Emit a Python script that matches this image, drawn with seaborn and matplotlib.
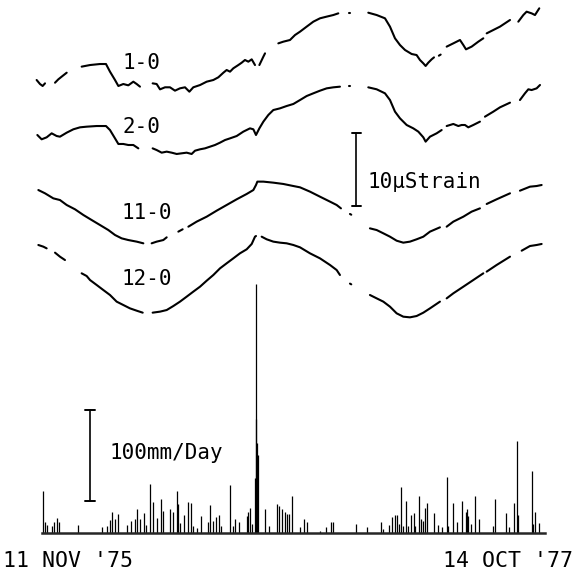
import numpy as np
import pandas as pd
import matplotlib
matplotlib.use("Agg")
import matplotlib.pyplot as plt
import seaborn as sns

sns.set_style("white")
plt.rcParams['font.family'] = ['DejaVu Sans Mono', 'DejaVu Sans']

# ---------------- DATA ----------------
# strain traces: list of segments (gaps between segments); (day since 11 Nov 1975, microstrain)
STRAIN_1_0 = [
    [(-7.5, 1.37), (-2.8, 0.82), (0.9, 0.55), (4.2, 0.91)],
    [(18.2, 1.0), (22.8, 1.46), (27.5, 1.83), (34.5, 2.37)],
    [(55.4, 3.2), (67.1, 3.42), (81.0, 3.56), (89.4, 3.56), (95.0, 2.51), (102.0, 1.37), (106.7, 0.55),
     (113.6, 0.82), (120.6, 0.64), (127.6, 1.14), (132.3, 0.82), (136.9, 0.46)],
    [(154.6, 0.91), (160.2, 0.82), (164.9, 0.09), (171.9, 0.37), (178.8, 0.37), (185.8, -0.09), (192.8, 0.23),
     (199.8, 0.37), (205.9, -0.23), (211.4, 0.37), (220.8, 0.68), (230.1, 1.14), (239.4, 1.37), (246.4, 1.74),
     (253.4, 2.37), (258.0, 2.74), (262.7, 2.51), (267.3, 2.97), (274.3, 3.42), (279.0, 3.74), (283.6, 4.11),
     (288.3, 3.88), (293.0, 4.2), (297.6, 3.42)],
    [(303.7, 3.42), (309.3, 4.57), (311.6, 5.02)],
    [(330.2, 6.39), (337.2, 6.62), (346.5, 6.85), (353.5, 7.53), (360.5, 7.99), (369.8, 8.68), (379.1, 9.36),
     (388.4, 9.82), (397.7, 10.05), (407.0, 10.27), (414.0, 10.5)],
    [(428.5, 10.59), (430.5, 10.59)],
    [(455.9, 10.59), (467.6, 10.27), (479.2, 9.82), (486.2, 8.68), (493.2, 7.08), (500.2, 6.16), (507.2, 5.48),
     (516.5, 4.93), (523.4, 4.79), (528.1, 4.11), (532.8, 3.65), (536.0, 3.29), (539.7, 3.74), (544.4, 4.2),
     (547.7, 4.47)],
    [(554.5, 4.7), (557.0, 4.85)],
    [(565.4, 5.94), (574.7, 6.39), (584.0, 6.85), (588.7, 6.16), (592.4, 5.57), (600.3, 5.94), (609.6, 6.62),
     (616.6, 7.08)],
    [(621.3, 7.76), (630.6, 8.22), (639.9, 8.68), (653.9, 9.59)],
    [(665.5, 9.36), (672.5, 10.27), (677.1, 10.73), (684.1, 10.5), (688.8, 10.27), (694.8, 11.19)],
]

STRAIN_2_0 = [
    [(-6.5, 2.74), (-0.5, 2.15), (6.5, 2.42), (13.5, 2.97), (20.5, 2.6), (25.1, 2.51), (34.5, 3.06), (43.8, 3.52),
     (53.1, 3.79), (62.4, 3.88), (76.4, 3.97), (89.4, 3.97), (95.0, 3.42), (102.0, 2.28), (106.7, 1.51),
     (113.6, 1.51), (120.6, 1.37), (127.6, 1.37), (134.6, 0.91)],
    [(154.6, 0.91), (160.2, 0.68), (167.2, 0.32), (174.2, 0.46), (181.2, 0.32), (188.2, 0.14), (195.1, 0.23),
     (202.1, 0.32), (209.1, 0.14), (213.8, 0.59), (220.8, 0.78), (227.7, 0.91), (234.7, 1.14), (241.7, 1.37),
     (248.7, 1.69), (255.7, 2.05), (262.7, 2.28), (272.0, 2.6), (281.3, 3.2), (290.6, 3.65), (295.3, 3.52),
     (299.0, 2.74), (303.7, 3.65), (309.3, 4.57), (316.2, 5.48), (323.2, 6.16), (332.5, 6.39), (341.8, 6.71),
     (351.2, 6.99), (360.5, 7.53), (369.8, 8.08), (379.1, 8.45), (388.4, 8.81), (397.7, 9.13), (407.0, 9.27),
     (416.3, 9.36)],
    [(428.5, 9.45), (430.5, 9.45)],
    [(455.9, 9.27), (467.6, 9.0), (479.2, 8.45), (486.2, 7.53), (493.2, 5.94), (500.2, 5.02), (509.5, 4.11),
     (518.8, 3.65), (525.8, 3.2), (532.8, 2.42), (536.0, 1.83), (542.1, 2.51), (551.4, 2.97), (558.4, 3.42)],
    [(565.4, 3.97), (574.7, 4.25), (581.7, 3.97), (586.3, 4.11), (591.0, 4.11), (595.6, 3.79), (602.6, 4.11),
     (611.9, 4.57)],
    [(618.9, 5.25), (630.6, 5.94), (639.9, 6.53), (653.9, 7.17)],
    [(667.8, 7.53), (674.8, 8.45), (679.5, 9.0), (684.1, 8.9), (691.1, 9.13), (695.8, 9.59)],
]

STRAIN_11_0 = [
    [(-5.1, 7.53), (4.2, 7.08), (15.8, 6.39), (25.1, 6.16), (34.5, 5.48), (46.1, 4.89), (57.8, 4.11), (69.4, 3.42),
     (81.0, 2.74), (92.7, 2.05), (102.0, 1.37), (111.3, 0.91), (120.6, 0.68), (132.3, 0.46), (141.6, 0.23)],
    [(153.2, 0.23), (160.2, 0.46), (169.5, 0.68), (174.2, 1.05)],
    [(190.5, 1.83), (196.5, 2.15)],
    [(204.5, 2.51), (216.1, 3.2), (230.1, 3.88), (244.0, 4.7), (258.0, 5.48), (272.0, 6.26), (286.0, 6.99),
     (295.3, 7.53), (299.0, 8.22), (300.9, 8.68), (309.3, 8.68), (323.2, 8.54), (337.2, 8.36), (351.2, 8.08),
     (360.5, 7.9), (374.4, 7.31), (388.4, 6.62), (402.4, 5.94), (411.7, 5.48), (417.7, 5.02)],
    [(430.3, 4.25), (432.1, 4.15)],
    [(458.2, 2.28), (467.6, 2.05), (476.9, 1.6), (486.2, 1.14), (495.5, 0.59), (504.8, 0.32), (514.1, 0.46),
     (523.4, 0.78), (532.8, 1.14), (542.1, 1.83), (556.0, 2.42)],
    [(565.4, 2.51), (574.7, 3.2), (588.7, 3.88), (600.3, 4.57), (611.9, 5.02)],
    [(621.3, 5.62), (635.2, 6.26), (653.9, 7.08)],
    [(667.8, 7.44), (681.8, 7.99), (691.1, 8.08), (698.1, 8.22)],
]

STRAIN_12_0 = [
    [(-5.1, 9.59), (1.9, 9.36), (6.5, 9.13)],
    [(18.2, 8.54), (25.1, 7.99), (32.1, 7.53)],
    [(55.4, 5.71), (62.4, 5.34), (67.1, 4.79), (76.4, 4.11), (85.7, 3.42), (95.0, 2.74), (104.3, 1.83),
     (113.6, 1.37), (122.9, 0.91), (132.3, 0.59), (140.7, 0.32)],
    [(154.6, 0.32), (164.9, 0.46), (174.2, 0.68), (183.5, 1.23), (192.8, 1.83), (202.1, 2.51), (211.4, 3.2),
     (220.8, 3.88), (230.1, 4.7), (239.4, 5.48), (248.7, 6.39), (258.0, 7.08), (267.3, 7.76), (276.6, 8.45),
     (286.0, 9.0), (293.0, 9.73), (297.6, 10.73), (299.0, 10.82)],
    [(306.9, 10.73), (313.9, 10.37), (323.2, 10.05), (332.5, 9.91), (341.8, 9.82), (351.2, 9.59), (360.5, 9.27),
     (374.4, 8.45), (388.4, 7.76), (402.4, 6.85), (411.7, 6.16), (416.3, 5.48)],
    [(430.3, 4.3), (432.1, 4.2)],
    [(458.2, 2.74), (467.6, 2.28), (476.9, 1.83), (486.2, 1.14), (495.5, 0.23), (504.8, -0.23), (514.1, -0.32),
     (523.4, -0.14), (532.8, 0.32), (542.1, 0.91), (556.0, 1.83)],
    [(565.4, 2.28), (574.7, 2.97), (588.7, 3.88), (602.6, 4.79), (616.6, 5.71)],
    [(621.3, 5.94), (635.2, 6.85), (653.9, 7.99)],
    [(670.2, 8.81), (681.8, 9.45), (691.1, 9.59), (698.1, 9.73)],
]

STRAIN_LABELS = ["1-0", "2-0", "11-0", "12-0"]

# daily rainfall (day since 11 Nov 1975, mm/day)
RAIN_DAY = [1, 4, 6.5, 13.5, 17, 21.5, 23.5, 50, 83.5, 91.5, 95, 98.5, 102, 105.5, 119, 124, 130, 133, 137, 143,
            146, 151, 154.5, 160, 166.5, 169.5, 179, 182.5, 188, 190, 193, 198.5, 204, 207.5, 211.5, 216, 222.5,
            232.5, 235, 239.5, 243, 247, 250.5, 262.5, 267.5, 270, 275.5, 286, 288, 290, 294,
            297.5, 298.5, 299.5, 300.5, 301.5,
            311.5, 317.5, 328, 330.5, 335, 339.5, 343, 345.5, 350, 360.5, 366, 370, 388.5, 397.5, 403.5, 406,
            438.5, 454.5, 473.5, 477, 485.5, 489, 493.5, 495.5, 499, 501, 505, 508.5, 512, 515, 519.5, 521, 527,
            530, 532, 535.5, 538, 547.5, 553.5, 558.5, 565.5, 567.5, 574, 580.5, 587.5, 592.5, 594, 595.5, 599,
            604.5, 611, 630.5, 633, 649, 652, 659.5, 663, 665, 684, 685.5, 689.5, 694.5]
RAIN_MM = [46, 11, 8, 7, 11, 16, 11, 8, 5.5, 7, 14, 23, 14.5, 20, 8.5, 13, 14.5, 26, 15, 21,
           8.5, 53, 33, 16, 36.5, 24, 25.5, 22, 46, 31, 10, 19, 33, 32, 7, 5, 18,
           11, 30, 13, 16.5, 19, 7, 52, 7, 14.5, 11, 18, 22, 27, 9,
           60, 272, 124, 98, 85,
           26, 7, 31, 29, 26, 22, 20, 20, 40, 6.5, 15, 11.5, 2, 6.5, 12, 12,
           9, 6, 11, 3.5, 8.5, 16.5, 19, 19, 9, 50, 7, 34.5, 7, 19, 21, 7, 39.5,
           14.5, 13, 27, 32, 21, 8, 6.5, 61, 7, 32, 11.5, 34, 22.5, 25.5, 18, 9,
           40.5, 14.5, 7, 36.5, 21, 6.5, 32, 100, 19, 67.5, 9, 22.5, 10]

DATE_LABELS = ["11 NOV '75", "14 OCT '77"]
STRAIN_SCALE = 10      # microstrain
RAIN_SCALE = 100       # mm/day

# ---------------- LAYOUT ----------------
W, H = 575, 576
DAY0_PX = 42.0                 # pixel of day 0
PX_PER_DAY = 501.0 / 700.0
PX_PER_US = 7.3                # pixels per microstrain
PX_PER_MM = 0.913              # pixels per mm/day
RAIN_BASE_PX = 532.5
CURVE_REF_PX = [90, 155, 245, 315]   # vertical placement of each trace

xlim = (-DAY0_PX / PX_PER_DAY, (W - DAY0_PX) / PX_PER_DAY)

fig = plt.figure(figsize=(W / 100, H / 100), dpi=100)
fig.patch.set_facecolor("white")

ax_s = fig.add_axes([0, 0, 1, 1])
ax_s.set_xlim(*xlim)
ax_s.set_ylim(-H / PX_PER_US, 0)
ax_s.axis("off")

ax_r = fig.add_axes([0, 0, 1, 1])
ax_r.patch.set_alpha(0)
ax_r.set_xlim(*xlim)
ax_r.set_ylim((RAIN_BASE_PX - H) / PX_PER_MM, RAIN_BASE_PX / PX_PER_MM)

# strain traces
rows = []
uid = 0
for name, segs, ref in zip(STRAIN_LABELS, [STRAIN_1_0, STRAIN_2_0, STRAIN_11_0, STRAIN_12_0], CURVE_REF_PX):
    off = -ref / PX_PER_US
    for seg in segs:
        for d, v in seg:
            rows.append({"day": d, "y": v + off, "curve": name, "uid": uid})
        uid += 1
df = pd.DataFrame(rows)
sns.lineplot(data=df, x="day", y="y", units="uid", estimator=None, sort=False,
             color="black", lw=1.5, ax=ax_s, legend=False)

lab_pos = [(141, 63), (141, 127), (147, 213), (147, 279)]
for lab, (xp, yp) in zip(STRAIN_LABELS, lab_pos):
    ax_s.text((xp - DAY0_PX) / PX_PER_DAY, -yp / PX_PER_US, lab, ha="center", va="center",
              fontsize=15, color="black")

# strain scale bar
sx = (356.5 - DAY0_PX) / PX_PER_DAY
top_s = -132.7 / PX_PER_US
ax_s.plot([sx, sx], [top_s, top_s - STRAIN_SCALE], color="black", lw=1.2)
for yy in (top_s, top_s - STRAIN_SCALE):
    ax_s.plot([sx - 6, sx + 6], [yy, yy], color="black", lw=1.4)
ax_s.text((368 - DAY0_PX) / PX_PER_DAY, -181.5 / PX_PER_US, "10\u03bcStrain", ha="left", va="center",
          fontsize=15, color="black")

# rainfall
ax_r.vlines(RAIN_DAY, 0, RAIN_MM, color="black", lw=0.9)
for s in ["top", "right", "left"]:
    ax_r.spines[s].set_visible(False)
ax_r.spines["bottom"].set_position(("data", 0))
ax_r.spines["bottom"].set_bounds(0, 703)
ax_r.spines["bottom"].set_linewidth(1.8)
ax_r.set_yticks([])
ax_r.set_xticks(np.arange(0, 701, 50))
ax_r.set_xticklabels([])
ax_r.tick_params(axis="x", direction="out", length=6, width=1.8, color="black")

# rain scale bar
rx = (90 - DAY0_PX) / PX_PER_DAY
rb = 34
ax_r.plot([rx, rx], [rb, rb + RAIN_SCALE], color="black", lw=1.2)
for yy in (rb, rb + RAIN_SCALE):
    ax_r.plot([rx - 7, rx + 7], [yy, yy], color="black", lw=1.4)
ax_r.text((110 - DAY0_PX) / PX_PER_DAY, (RAIN_BASE_PX - 453) / PX_PER_MM, "100mm/Day", ha="left",
          va="center", fontsize=15, color="black")

# date labels
ax_r.text((3 - DAY0_PX) / PX_PER_DAY, (RAIN_BASE_PX - 561) / PX_PER_MM, DATE_LABELS[0], ha="left",
          va="center", fontsize=15.5, color="black")
ax_r.text((573 - DAY0_PX) / PX_PER_DAY, (RAIN_BASE_PX - 561) / PX_PER_MM, DATE_LABELS[1], ha="right",
          va="center", fontsize=15.5, color="black")

fig.savefig("out.png", dpi=100, facecolor="white")
